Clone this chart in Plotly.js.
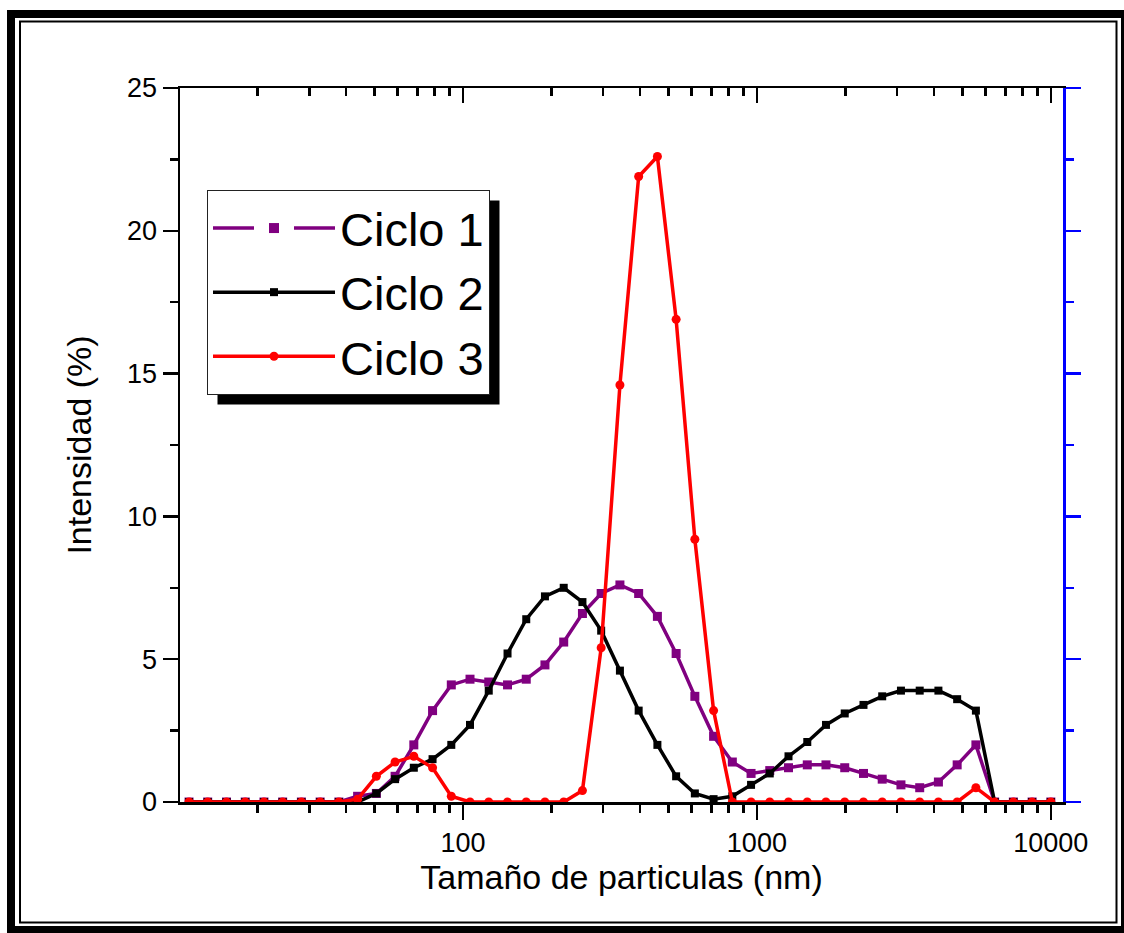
<!DOCTYPE html>
<html><head><meta charset="utf-8">
<script src="https://cdn.plot.ly/plotly-3.0.1.min.js"></script>
<style>html,body{margin:0;padding:0;background:#fff;} #chart{width:1124px;height:933px;}</style>
</head><body><div id="chart"></div>
<script>
// Particle size bins (nm)
const sizesNm = [11.7, 13.54, 15.69, 18.17, 21.04, 24.36, 28.21, 32.67, 37.84, 43.82,
  50.75, 58.77, 68.06, 78.82, 91.28, 105.7, 122.4, 141.8, 164.2, 190.1,
  220.2, 255, 295.3, 342, 396.1, 458.7, 531.2, 615.1, 712.4, 825,
  955.4, 1106, 1281, 1484, 1718, 1990, 2305, 2669, 3091, 3580,
  4145, 4801, 5560, 6439, 7456, 8635, 10000];
// Intensity (%)
const ciclo1 = [0, 0, 0, 0, 0, 0, 0, 0, 0, 0.2,
  0.3, 0.9, 2.0, 3.2, 4.1, 4.3, 4.2, 4.1, 4.3, 4.8,
  5.6, 6.6, 7.3, 7.6, 7.3, 6.5, 5.2, 3.7, 2.3, 1.4,
  1.0, 1.1, 1.2, 1.3, 1.3, 1.2, 1.0, 0.8, 0.6, 0.5,
  0.7, 1.3, 2.0, 0, 0, 0, 0];
const ciclo2 = [0, 0, 0, 0, 0, 0, 0, 0, 0, 0,
  0.3, 0.8, 1.2, 1.5, 2.0, 2.7, 3.9, 5.2, 6.4, 7.2,
  7.5, 7.0, 6.0, 4.6, 3.2, 2.0, 0.9, 0.3, 0.1, 0.2,
  0.6, 1.0, 1.6, 2.1, 2.7, 3.1, 3.4, 3.7, 3.9, 3.9,
  3.9, 3.6, 3.2, 0, 0, 0, 0];
const ciclo3 = [0, 0, 0, 0, 0, 0, 0, 0, 0, 0.1,
  0.9, 1.4, 1.6, 1.2, 0.2, 0, 0, 0, 0, 0,
  0, 0.4, 5.4, 14.6, 21.9, 22.6, 16.9, 9.2, 3.2, 0,
  0, 0, 0, 0, 0, 0, 0, 0, 0, 0,
  0, 0, 0.5, 0, 0, 0, 0];
const seriesNames = ['Ciclo 1', 'Ciclo 2', 'Ciclo 3'];
const xTickVals = [100, 1000, 10000];
const xTickText = ['100', '1000', '10000'];
const xMinorTickVals = [20, 30, 40, 50, 60, 70, 80, 90, 200, 300, 400, 500, 600, 700, 800, 900,
  2000, 3000, 4000, 5000, 6000, 7000, 8000, 9000];
const yTickVals = [0, 5, 10, 15, 20, 25];

const W = 1124, H = 933, L = 180, R = 61, T = 88, B = 131;
const pw = W - L - R, ph = H - T - B;
const px = v => (v - L) / pw;
const py = v => (H - B - v) / ph;
const FONT = 'Liberation Sans, Arial, sans-serif';
const xRange = [Math.log10(10.9), Math.log10(11000)];

const traces = [
  {x: sizesNm, y: ciclo1, mode: 'lines+markers', name: seriesNames[0], showlegend: false,
   line: {color: '#800080', width: 3.5}, marker: {symbol: 'square', size: 9, color: '#800080'}},
  {x: [null], y: [null], xaxis: 'x2', yaxis: 'y2', mode: 'lines+markers', name: seriesNames[0],
   line: {color: '#800080', width: 3.5, dash: '41px,40px'}, marker: {symbol: 'square', size: 10, color: '#800080'}},
  {x: sizesNm, y: ciclo2, mode: 'lines+markers', name: seriesNames[1],
   line: {color: '#000000', width: 3.5}, marker: {symbol: 'square', size: 8, color: '#000000'}},
  {x: sizesNm, y: ciclo3, mode: 'lines+markers', name: seriesNames[2],
   line: {color: '#ff0000', width: 3.5}, marker: {symbol: 'circle', size: 9, color: '#ff0000'}}
];

const layout = {
  width: W, height: H,
  margin: {l: L, r: R, t: T, b: B, pad: 0},
  paper_bgcolor: '#ffffff', plot_bgcolor: '#ffffff',
  font: {family: FONT, color: '#000000'},
  showlegend: true,
  xaxis: {
    type: 'log', range: xRange, tickmode: 'array', tickvals: xTickVals, ticktext: xTickText,
    ticks: 'outside', ticklen: 15, tickwidth: 2.5, tickcolor: '#000',
    showline: true, linewidth: 2.5, linecolor: '#000', showgrid: false, zeroline: false,
    minor: {tickmode: 'array', tickvals: xMinorTickVals, ticks: 'outside', ticklen: 8, tickwidth: 2.5, tickcolor: '#000', showgrid: false},
    tickfont: {size: 27, family: FONT, color: '#000'},
    title: {text: 'Tamaño de particulas (nm)', font: {size: 34, family: FONT, color: '#000'}, standoff: 8}
  },
  xaxis2: {
    type: 'log', range: xRange, overlaying: 'x', anchor: 'y', side: 'top',
    tickmode: 'array', tickvals: xTickVals, showticklabels: false,
    ticks: 'inside', ticklen: 15, tickwidth: 2.5, tickcolor: '#000',
    showline: true, linewidth: 2.5, linecolor: '#000', showgrid: false, zeroline: false,
    minor: {tickmode: 'array', tickvals: xMinorTickVals, ticks: 'inside', ticklen: 8, tickwidth: 2.5, tickcolor: '#000', showgrid: false}
  },
  yaxis: {
    range: [0, 25], tickmode: 'array', tickvals: yTickVals,
    ticks: 'outside', ticklen: 15, tickwidth: 2.5, tickcolor: '#000',
    showline: true, linewidth: 2.5, linecolor: '#000', showgrid: false, zeroline: false,
    minor: {dtick: 2.5, tick0: 0, ticks: 'outside', ticklen: 8, tickwidth: 2.5, tickcolor: '#000', showgrid: false},
    tickfont: {size: 27, family: FONT, color: '#000'},
    title: {text: 'Intensidad (%)', font: {size: 34, family: FONT, color: '#000'}, standoff: 25}
  },
  yaxis2: {
    range: [0, 25], overlaying: 'y', anchor: 'x', side: 'right',
    dtick: 5, tick0: 0, showticklabels: false,
    ticks: 'outside', ticklen: 15, tickwidth: 2.5, tickcolor: '#0000ff',
    showline: true, linewidth: 2.5, linecolor: '#0000ff', showgrid: false, zeroline: false,
    minor: {dtick: 2.5, tick0: 0, ticks: 'outside', ticklen: 8, tickwidth: 2.5, tickcolor: '#0000ff', showgrid: false}
  },
  legend: {
    x: px(207), y: py(190), xanchor: 'left', yanchor: 'top',
    bgcolor: '#ffffff', bordercolor: '#222', borderwidth: 1,
    font: {size: 47, family: FONT, color: '#000'},
    itemwidth: 122, tracegroupgap: 0, traceorder: 'normal', valign: 'middle'
  },
  shapes: [
    {type: 'rect', xref: 'paper', yref: 'paper', layer: 'above',
     x0: px(220), x1: px(514), y0: py(207), y1: py(398),
     fillcolor: '#000', line: {width: 0}},
    {type: 'rect', xref: 'paper', yref: 'paper', layer: 'above',
     x0: px(11), x1: px(1125), y0: py(14), y1: py(930),
     fillcolor: 'rgba(0,0,0,0)', line: {color: '#000', width: 8}},
    {type: 'rect', xref: 'paper', yref: 'paper', layer: 'above',
     x0: px(20), x1: px(1116.5), y0: py(21.5), y1: py(922.5),
     fillcolor: 'rgba(0,0,0,0)', line: {color: '#000', width: 2}}
  ]
};

Plotly.newPlot('chart', traces, layout, {displayModeBar: false, staticPlot: true}).then(function (gd) {
  // place the legend's drop shadow 10px right/down of the drawn legend box
  var bg = gd.querySelector('.legend .bg');
  if (!bg) return;
  var r = bg.getBoundingClientRect();
  var c = gd.getBoundingClientRect();
  var x0 = r.left - c.left, y0 = r.top - c.top;
  return Plotly.relayout(gd, {
    'shapes[0].x0': px(x0 + 10), 'shapes[0].x1': px(x0 + r.width + 10),
    'shapes[0].y0': py(y0 + 10), 'shapes[0].y1': py(y0 + r.height + 10)
  });
});
</script>
</body></html>
